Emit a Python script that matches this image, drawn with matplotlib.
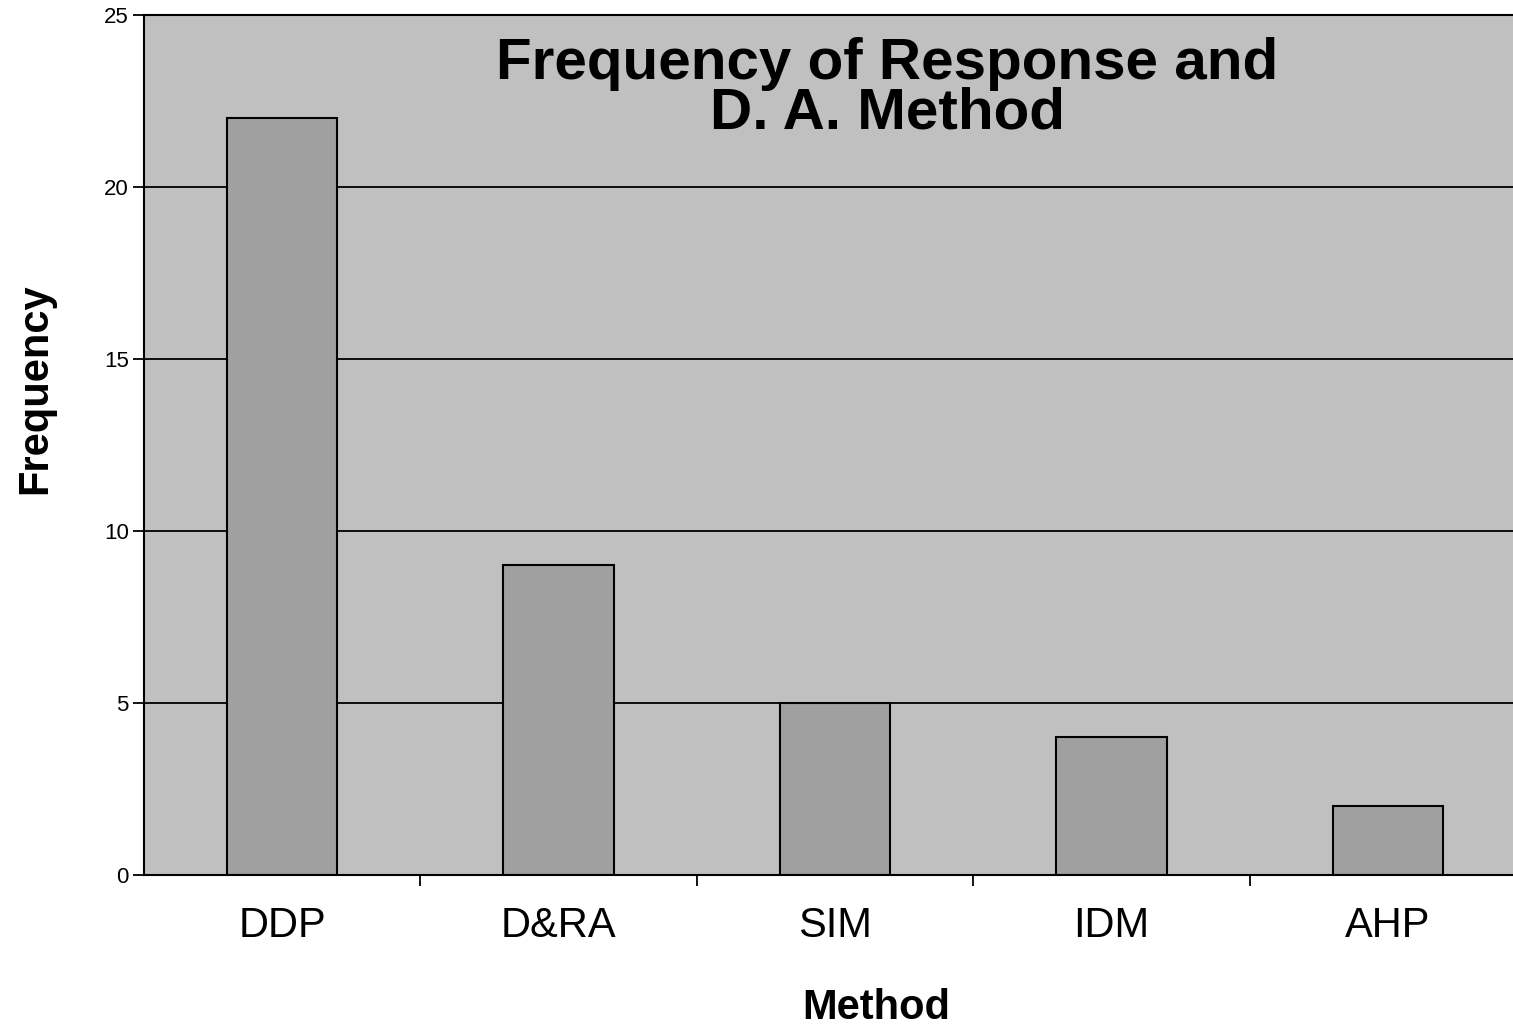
import numpy as np
import matplotlib.pyplot as plt

plt.rcParams['font.family'] = ['Liberation Sans', 'DejaVu Sans']

methods = ['DDP', 'D&RA', 'SIM', 'IDM', 'AHP']
frequency = [22, 9, 5, 4, 2]
yticks = [0, 5, 10, 15, 20, 25]

fig = plt.figure(figsize=(15.13, 10.29), dpi=100)
ax = fig.add_axes([144/1513, 1-875/1029, 1-144/1513, (875-15)/1029])
ax.set_facecolor('#C0C0C0')

x = np.arange(len(methods))
for y in yticks[1:]:
    ax.axhline(y, color='k', linewidth=1.3, zorder=1)
ax.bar(x, frequency, width=0.4, color='#A0A0A0', edgecolor='k', linewidth=1.5, zorder=2)

ax.set_xlim(-0.5, 4.453)
ax.set_ylim(0, 25)
ax.set_yticks(yticks)
ax.tick_params(axis='y', direction='out', length=8, width=1.3, labelsize=16, pad=3)

# category labels at centres, tick marks at boundaries
ax.set_xticks(np.arange(0.5, 4.5, 1))
ax.set_xticklabels([])
ax.tick_params(axis='x', direction='out', length=8, width=1.3)
ax.set_xticks(x, minor=True)
ax.set_xticklabels(methods, minor=True, fontsize=30)
ax.tick_params(axis='x', which='minor', length=0, pad=22)

ax.spines['right'].set_visible(False)
for s in ['left', 'bottom', 'top']:
    ax.spines[s].set_linewidth(1.5)

fig.text(876/1513, 1-1008/1029, 'Method', ha='center', va='center',
         fontsize=30, fontweight='bold')
fig.text(35/1513, 1-389/1029, 'Frequency', ha='center', va='center', rotation=90,
         fontsize=30, fontweight='bold')

fig.text(887/1513, 1-89/1029, 'Frequency of Response and\nD. A. Method', ha='center', va='center',
         fontsize=42, fontweight='bold', linespacing=0.9)

plt.savefig('out.png', dpi=100)
